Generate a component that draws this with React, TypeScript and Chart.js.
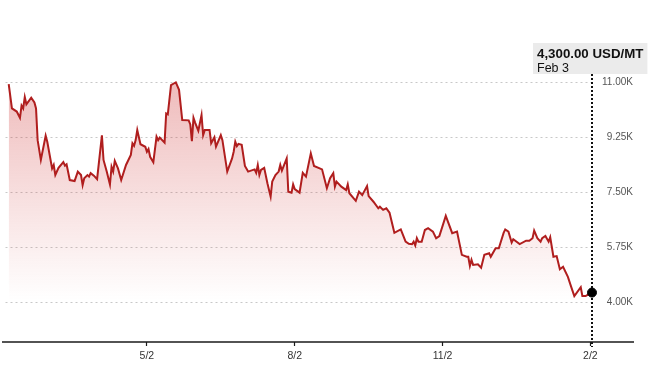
import React, { useEffect, useRef } from 'react';
import { Chart, registerables } from 'chart.js';

Chart.register(...registerables);

// Days elapsed since Feb 3 of the previous year
const DAYS = [
  2, 4, 7, 9, 10, 11, 12, 13, 16, 18, 19, 20, 22, 25, 26, 29, 30, 31, 33, 36,
  37, 38, 40, 43, 45, 47, 48, 49, 51, 52, 53, 55, 57, 60, 61, 63, 65, 66, 67, 68,
  70, 72, 75, 78, 79, 80, 81, 82, 84, 87, 88, 89, 90, 92, 94, 95, 96, 99, 100, 101,
  103, 105, 106, 108, 110, 114, 115, 116, 117, 118, 120, 122, 123, 124, 127, 128, 130, 131, 134, 135,
  138, 141, 142, 143, 144, 145, 147, 149, 151, 155, 156, 157, 158, 159, 161, 163, 165, 166, 168, 170,
  171, 172, 175, 176, 178, 179, 180, 183, 185, 187, 190, 192, 197, 200, 202, 204, 205, 206, 209, 212,
  213, 214, 218, 220, 222, 225, 226, 229, 232, 233, 235, 237, 239, 242, 246, 249, 251, 253, 254, 255,
  256, 257, 259, 261, 263, 266, 268, 270, 274, 278, 281, 284, 287, 288, 289, 290, 291, 294, 296, 298,
  301, 302, 305, 307, 310, 311, 313, 315, 316, 320, 324, 326, 328, 329, 331, 333, 334, 336, 338, 339,
  341, 343, 345, 347, 350, 352, 354, 358, 359, 361, 362, 365,
];

// Price, USD per metric ton
const PRICES = [
  10930, 10160, 10060, 9860, 10250, 10160, 10520, 10290, 10500, 10350, 10160, 9150, 8520, 9290, 9100, 8250, 8360, 8040, 8270, 8450,
  8340, 8380, 7880, 7850, 8150, 8040, 7720, 7940, 8040, 7990, 8100, 8020, 7910, 9300, 8520, 8150, 7740, 8300, 8150, 8490,
  8250, 7880, 8360, 8680, 9050, 8970, 9150, 9470, 9020, 8940, 8780, 8870, 8620, 8450, 9260, 9150, 9230, 9070, 10000, 9970,
  10900, 10960, 10990, 10750, 9790, 9780, 9650, 9120, 9860, 9710, 9450, 9950, 9310, 9470, 9470, 9050, 9240, 8940, 9310, 9150,
  8150, 8570, 8780, 9100, 8960, 9030, 9000, 8330, 8150, 8220, 8110, 8360, 8040, 8200, 8270, 7780, 7350, 7830, 8040, 8150,
  8360, 8180, 8570, 7510, 7480, 7740, 7590, 7480, 8110, 7990, 8730, 8330, 8220, 7620, 7940, 8100, 7670, 7830, 7670, 7560,
  7740, 7460, 7220, 7510, 7400, 7690, 7370, 7190, 6980, 7030, 6930, 6980, 6840, 6200, 6310, 5920, 5850, 5840, 5920, 5800,
  6030, 5920, 5920, 6290, 6350, 6240, 6030, 6100, 6740, 6190, 6240, 5500, 5440, 5440, 5150, 5340, 5180, 5200, 5090, 5500,
  5550, 5440, 5710, 5710, 6200, 6310, 6240, 5890, 5995, 5845, 5950, 5950, 6030, 6270, 6030, 5920, 6030, 6100, 5920, 6060,
  5440, 5460, 5040, 5120, 4800, 4490, 4190, 4470, 4190, 4190, 4220, 4300,
];

const X_TICK_DAYS = [88, 180, 272, 364];
const X_TICK_LABELS = ['5/2', '8/2', '11/2', '2/2'];
const Y_TICKS = [4000, 5750, 7500, 9250, 11000];
const LAST_DATE_LABEL = 'Feb 3';
const UNIT = 'USD/MT';

const FONT = "'Liberation Sans', Arial, sans-serif";

const overlayPlugin = {
  id: 'overlay',
  beforeDatasetsDraw(chart: any) {
    const { ctx, scales } = chart;
    const x = scales.x;
    const y = scales.y;
    const n = DAYS.length - 1;
    const px = Math.round(x.getPixelForValue(DAYS[n]));
    ctx.save();
    ctx.strokeStyle = '#111';
    ctx.lineWidth = 2;
    ctx.setLineDash([2, 2]);
    ctx.beginPath();
    ctx.moveTo(px, 74);
    ctx.lineTo(px, y.bottom + 5);
    ctx.stroke();
    ctx.restore();
  },
  afterDraw(chart: any) {
    const { ctx, scales } = chart;
    const y = scales.y;
    const n = PRICES.length - 1;
    ctx.save();
    // x axis base line
    ctx.strokeStyle = '#1a1a1a';
    ctx.lineWidth = 1.5;
    ctx.beginPath();
    ctx.moveTo(2, y.bottom);
    ctx.lineTo(634, y.bottom);
    ctx.stroke();

    // value label box
    const line1 =
      PRICES[n].toLocaleString('en-US', { minimumFractionDigits: 2, maximumFractionDigits: 2 }) + ' ' + UNIT;
    ctx.font = `bold 13.3px ${FONT}`;
    const w1 = ctx.measureText(line1).width;
    const left = 533;
    const textLeft = left + 4;
    const right = textLeft + w1 + 4;
    ctx.fillStyle = '#ebebeb';
    ctx.fillRect(left, 43, right - left, 31);
    ctx.fillStyle = '#111';
    ctx.textBaseline = 'alphabetic';
    ctx.textAlign = 'left';
    ctx.fillText(line1, textLeft, 58);
    ctx.font = `12.5px ${FONT}`;
    ctx.fillText(LAST_DATE_LABEL, textLeft, 71.5);
    ctx.restore();
  },
};

export default function App() {
  const canvasRef = useRef<HTMLCanvasElement | null>(null);

  useEffect(() => {
    const canvas = canvasRef.current;
    if (!canvas) return;
    const last = DAYS.length - 1;
    const chart = new Chart(canvas, {
      type: 'line',
      data: {
        datasets: [
          {
            data: DAYS.map((d, i) => ({ x: d, y: PRICES[i] })),
            borderColor: '#b01e1e',
            borderWidth: 2,
            tension: 0,
            clip: false,
            fill: 'start',
            backgroundColor: (c: any) => {
              const ch = c.chart;
              const area = ch.chartArea;
              if (!area) return 'rgba(200,40,40,0.2)';
              const g = ch.ctx.createLinearGradient(0, 82, 0, 300);
              g.addColorStop(0, 'rgba(205,45,45,0.32)');
              g.addColorStop(1, 'rgba(205,45,45,0)');
              return g;
            },
            pointRadius: (c: any) => (c.dataIndex === last ? 4.5 : 0),
            pointHoverRadius: 0,
            pointBackgroundColor: '#000',
            pointBorderColor: '#000',
            pointBorderWidth: 1,
          },
        ],
      },
      options: {
        animation: false,
        responsive: false,
        events: [],
        layout: { padding: { left: 2, right: 25, top: 50, bottom: 0 } },
        plugins: {
          legend: { display: false },
          tooltip: { enabled: false },
        },
        scales: {
          x: {
            type: 'linear',
            min: 0,
            max: 365,
            afterBuildTicks: (s: any) => {
              s.ticks = X_TICK_DAYS.map((v) => ({ value: v }));
            },
            afterFit: (s: any) => {
              s.height = 38;
            },
            ticks: {
              autoSkip: false,
              maxRotation: 0,
              padding: 4,
              color: '#333',
              font: { family: FONT, size: 10.5 },
              callback: (v: any) => {
                const i = X_TICK_DAYS.indexOf(Number(v));
                return i >= 0 ? X_TICK_LABELS[i] : '';
              },
            },
            grid: {
              drawOnChartArea: false,
              drawTicks: true,
              tickLength: 4,
              tickColor: '#1a1a1a',
              tickWidth: 1.2,
            },
            border: { display: false },
          },
          y: {
            type: 'linear',
            position: 'right',
            min: 2727.3,
            max: 12018.2,
            afterBuildTicks: (s: any) => {
              s.ticks = Y_TICKS.map((v) => ({ value: v }));
            },
            afterFit: (s: any) => {
              s.width = 41;
            },
            ticks: {
              crossAlign: 'far',
              padding: 9,
              color: '#555',
              font: { family: FONT, size: 10 },
              callback: (v: any) => (Number(v) / 1000).toFixed(2) + 'K',
            },
            grid: {
              drawTicks: false,
              color: '#c8c8c8',
              lineWidth: 1,
            },
            border: { display: false, dash: [2, 3] },
          },
        },
      },
      plugins: [overlayPlugin],
    } as any);
    return () => chart.destroy();
  }, []);

  return (
    <div style={{ position: 'absolute', left: 0, top: 0, width: 658, height: 380, background: '#fff' }}>
      <canvas ref={canvasRef} width={658} height={380} style={{ display: 'block' }} />
    </div>
  );
}
